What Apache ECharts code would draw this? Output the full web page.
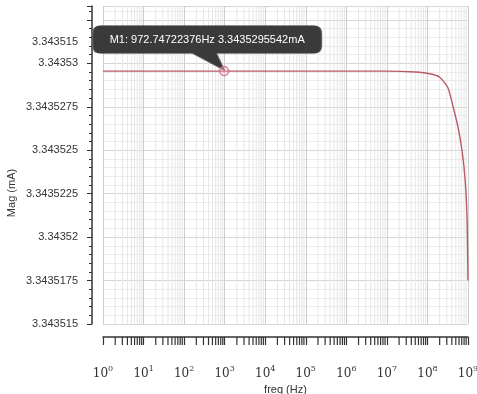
<!DOCTYPE html>
<html>
<head>
<meta charset="utf-8">
<script src="https://cdn.jsdelivr.net/npm/echarts@6/dist/echarts.min.js"></script>
<style>html,body{margin:0;padding:0;background:#fff}#c{width:477px;height:394px}</style>
</head>
<body>
<div id="c"></div>
<script>
// ---- data ----
const freqHz = [1, 10, 100, 972.74722376, 1e4, 1e5, 1e6, 1e7, 5e7, 1.15e8, 2e8, 3.2e8, 4.3e8, 5.7e8, 7.1e8, 8.5e8, 9.5e8, 1e9];
const magmA = [3.3435295542, 3.3435295542, 3.3435295542, 3.3435295542, 3.3435295542, 3.3435295542, 3.3435295542, 3.3435295542,
  3.3435295, 3.3435294, 3.3435292, 3.3435286, 3.3435275, 3.3435263, 3.343525, 3.3435233, 3.343521, 3.3435175];
const markerFreq = 972.74722376;
const markerMag = 3.3435295542;
const markerText = 'M1: 972.74722376Hz 3.3435295542mA';
const yMin = 3.343515, yMax = 3.3435333, yStep = 0.0000025;
const yLabelMaxShown = 3.34353;
const xDecades = [0, 1, 2, 3, 4, 5, 6, 7, 8, 9];
const minorMult = [2, 3, 4, 5, 6, 7, 8, 9];
const topStrayLabel = '3.343515';
const yTitle = 'Mag (mA)';
const xTitle = 'freq (Hz)';

const lineData = freqHz.map((f, i) => [f, magmA[i]]);
const minorFreqs = [];
xDecades.slice(0, -1).forEach(d => minorMult.forEach(m => minorFreqs.push(m * Math.pow(10, d))));

const chart = echarts.init(document.getElementById('c'));
const font = 'Liberation Sans, Arial, sans-serif';
chart.setOption({
  animation: false,
  backgroundColor: '#fff',
  grid: { left: 103, right: 9, top: 6, bottom: 70, outerBoundsMode: 'none', containLabel: false },
  xAxis: {
    type: 'log', logBase: 10, min: 1, max: 1e9, splitNumber: 9, offset: 13,
    axisLine: { show: true, lineStyle: { color: '#333', width: 1.5 } },
    axisTick: { show: true, length: 8, lineStyle: { color: '#333', width: 1.2 } },
    splitLine: { show: true, lineStyle: { color: '#cdcdcd', width: 1 } },
    axisLabel: {
      margin: 28, color: '#333', hideOverlap: false,
      formatter: v => '{b|10}{s|' + Math.round(Math.log10(v)) + '}',
      rich: {
        b: { fontSize: 12, lineHeight: 18, fontFamily: 'DejaVu Serif', color: '#333' },
        s: { fontSize: 8, lineHeight: 10, verticalAlign: 'top', fontFamily: 'DejaVu Serif', color: '#333' }
      }
    },
    name: xTitle, nameLocation: 'middle', nameGap: 43,
    nameTextStyle: { fontSize: 11, color: '#333', fontFamily: font }
  },
  yAxis: {
    type: 'value', min: yMin, max: yMax, interval: yStep, offset: 11,
    axisLine: { show: true, lineStyle: { color: '#333', width: 1.5 } },
    axisTick: { show: true, length: 5, lineStyle: { color: '#333' } },
    minorTick: { show: true, splitNumber: 5, length: 3, lineStyle: { color: '#333' } },
    splitLine: { show: true, lineStyle: { color: '#d6d6d6' } },
    minorSplitLine: { show: true, lineStyle: { color: '#ececec' } },
    axisLabel: {
      margin: 14, fontSize: 11, color: '#333', fontFamily: font, showMaxLabel: false,
      formatter: v => v > yLabelMaxShown + 1e-9 ? '' : parseFloat(v.toFixed(7)).toString()
    }
  },
  graphic: [
    { type: 'text', x: 78, y: 42, style: { text: topStrayLabel, align: 'right', verticalAlign: 'middle', fontSize: 11, fill: '#333', fontFamily: font } },
    { type: 'text', x: 12, y: 193, rotation: Math.PI / 2, style: { text: yTitle, align: 'center', verticalAlign: 'middle', fontSize: 11, fill: '#333', fontFamily: font } }
  ],
  series: [
    {
      type: 'custom', clip: false, silent: true, z: 1,
      data: minorFreqs,
      renderItem: (params, api) => {
        const f = api.value(0);
        const b = api.coord([f, yMin]);
        const t = api.coord([f, yMax]);
        return {
          type: 'group', children: [
            { type: 'line', shape: { x1: b[0], y1: t[1], x2: b[0], y2: b[1] }, style: { stroke: '#e6e6e6', lineWidth: 1 } },
            { type: 'line', shape: { x1: b[0], y1: b[1] + 13, x2: b[0], y2: b[1] + 21 }, style: { stroke: '#333', lineWidth: 1.2 } }
          ]
        };
      },
      encode: { x: 0 }
    },
    {
      type: 'line', data: lineData, showSymbol: false, z: 3, smooth: 0.2,
      lineStyle: { color: '#b85a66', width: 1.4 },
      markPoint: {
        silent: true,
        data: [
          {
            coord: [markerFreq, markerMag],
            symbol: 'path://M8,0 H221 Q229,0 229,8 V20 Q229,28 221,28 H124 L132,45 L100,28 H8 Q0,28 0,20 V8 Q0,0 8,0 Z',
            symbolSize: [229, 45], symbolKeepAspect: false, symbolOffset: [-17, -23],
            itemStyle: { color: '#3a3a3a', borderColor: '#666', borderWidth: 0.5 },
            label: { show: true, position: 'inside', offset: [0, -8], formatter: markerText, color: '#fff', fontSize: 11, fontFamily: font }
          },
          {
            coord: [markerFreq, markerMag],
            symbol: 'circle', symbolSize: 9,
            itemStyle: { color: 'rgba(240,180,200,0.35)', borderColor: '#d86a88', borderWidth: 1.2 },
            label: { show: false }
          }
        ]
      }
    }
  ]
});
</script>
</body>
</html>
